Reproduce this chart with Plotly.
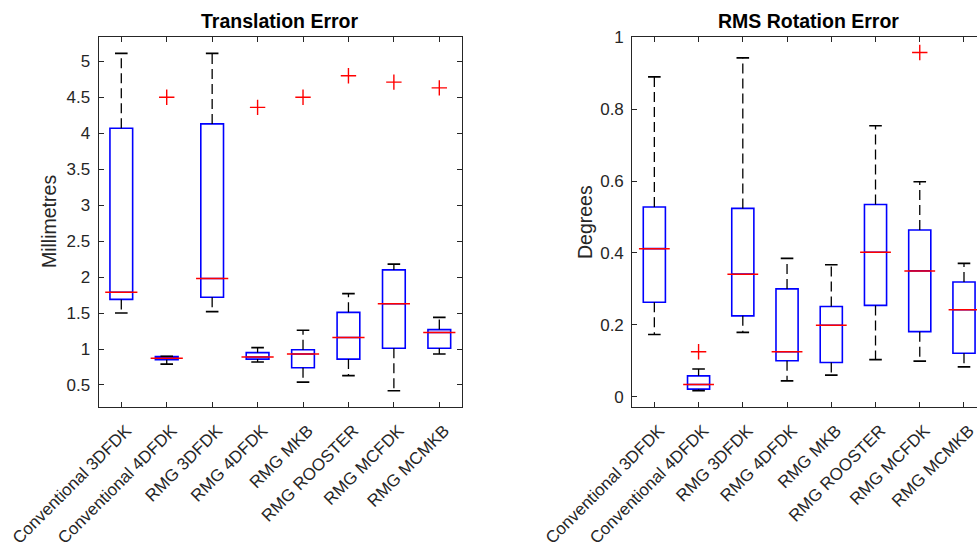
import plotly.graph_objects as go

categories = ["Conventional 3DFDK", "Conventional 4DFDK", "RMG 3DFDK", "RMG 4DFDK",
              "RMG MKB", "RMG ROOSTER", "RMG MCFDK", "RMG MCMKB"]
positions = [1, 2, 3, 4, 5, 6, 7, 8]

# Translation error (mm)
trans_lower = [1.50, 0.79, 1.52, 0.82, 0.54, 0.63, 0.42, 0.93]
trans_q1 = [1.69, 0.85, 1.72, 0.86, 0.74, 0.86, 1.01, 1.01]
trans_median = [1.79, 0.87, 1.98, 0.89, 0.93, 1.16, 1.63, 1.23]
trans_q3 = [4.07, 0.895, 4.13, 0.95, 0.99, 1.51, 2.10, 1.27]
trans_upper = [5.11, 0.90, 5.11, 1.02, 1.26, 1.77, 2.18, 1.44]
trans_outliers = [None, 4.50, None, 4.36, 4.50, 4.80, 4.71, 4.63]

# RMS rotation error (degrees)
rot_lower = [0.173, 0.017, 0.179, 0.044, 0.060, 0.103, 0.099, 0.083]
rot_q1 = [0.263, 0.021, 0.225, 0.100, 0.095, 0.254, 0.181, 0.121]
rot_median = [0.412, 0.034, 0.341, 0.125, 0.199, 0.402, 0.350, 0.242]
rot_q3 = [0.528, 0.058, 0.524, 0.300, 0.251, 0.535, 0.464, 0.319]
rot_upper = [0.890, 0.077, 0.943, 0.385, 0.367, 0.754, 0.598, 0.371]
rot_outliers = [None, 0.125, None, None, None, None, 0.958, None]

AXIS_COLOR = "#262626"
FONT = "Liberation Sans, Arial, sans-serif"

fig = go.Figure()


def add_boxplot(xa, ya, lower, q1, med, q3, upper, outliers, median_px):
    # blue boxes
    fig.add_trace(go.Box(
        x=positions, q1=q1, median=med, q3=q3, lowerfence=q1, upperfence=q3,
        width=0.5, whiskerwidth=0, boxpoints=False,
        fillcolor="rgba(0,0,0,0)", line=dict(color="#0000ff", width=1.6),
        xaxis=xa, yaxis=ya, hoverinfo="skip"))
    # dashed whiskers
    wx, wy = [], []
    for p, lo, a, b, up in zip(positions, lower, q1, q3, upper):
        wx += [p, p, None, p, p, None]
        wy += [b, up, None, a, lo, None]
    fig.add_trace(go.Scatter(
        x=wx, y=wy, mode="lines",
        line=dict(color="black", width=1.3, dash="10px,5px"),
        xaxis=xa, yaxis=ya, hoverinfo="skip"))
    # caps
    fig.add_trace(go.Scatter(
        x=positions + positions, y=upper + lower, mode="markers",
        marker=dict(symbol="line-ew", size=9, line=dict(color="black", width=1.6)),
        xaxis=xa, yaxis=ya, hoverinfo="skip"))
    # red medians
    fig.add_trace(go.Scatter(
        x=positions, y=med, mode="markers",
        marker=dict(symbol="line-ew", size=median_px, line=dict(color="#ff0000", width=1.5)),
        xaxis=xa, yaxis=ya, hoverinfo="skip"))
    # outliers
    ox = [p for p, o in zip(positions, outliers) if o is not None]
    oy = [o for o in outliers if o is not None]
    fig.add_trace(go.Scatter(
        x=ox, y=oy, mode="markers",
        marker=dict(symbol="cross-thin", size=11, line=dict(color="#ff0000", width=1.4)),
        xaxis=xa, yaxis=ya, hoverinfo="skip"))


add_boxplot("x", "y", trans_lower, trans_q1, trans_median, trans_q3, trans_upper, trans_outliers, 23)
add_boxplot("x2", "y2", rot_lower, rot_q1, rot_median, rot_q3, rot_upper, rot_outliers, 22)

tickfont = dict(family=FONT, size=17, color=AXIS_COLOR)
common_x = dict(tickvals=positions, ticktext=categories, tickangle=-45, ticks="inside",
                ticklen=5, tickcolor=AXIS_COLOR, showline=True, linecolor=AXIS_COLOR,
                linewidth=1, showgrid=False, zeroline=False, tickfont=tickfont,
                automargin=False, ticklabelstandoff=6, ticklabelshift=5,
                ticklabeloverflow="allow")
common_y = dict(ticks="inside", ticklen=5, tickcolor=AXIS_COLOR, showline=True,
                linecolor=AXIS_COLOR, linewidth=1, showgrid=False, zeroline=False,
                tickfont=tickfont, automargin=False, ticklabelstandoff=4)

fig.update_layout(
    width=977, height=548,
    margin=dict(l=0, r=0, t=0, b=0),
    paper_bgcolor="white", plot_bgcolor="white",
    showlegend=False,
    font=dict(family=FONT, color=AXIS_COLOR),
    xaxis=dict(domain=[0.1009, 0.4729], range=[0.5, 8.5], anchor="y", mirror="ticks", **common_x),
    yaxis=dict(domain=[0.2573, 0.9325], range=[0.194, 5.338], tick0=0, dtick=0.5,
               anchor="x", mirror="ticks", **common_y),
    xaxis2=dict(domain=[0.6471, 1.0], range=[0.5, 8.294], anchor="y2", mirror="ticks", **common_x),
    yaxis2=dict(domain=[0.2573, 0.9325], range=[-0.0287, 1.001], tick0=0, dtick=0.2,
                anchor="x2", mirror=False, **common_y),
    annotations=[
        dict(text="<b>Translation Error</b>", x=0.2869, y=0.9617, xref="paper", yref="paper",
             showarrow=False, xanchor="center", yanchor="middle",
             font=dict(family=FONT, size=19.5, color="black")),
        dict(text="<b>RMS Rotation Error</b>", x=0.828, y=0.9617, xref="paper", yref="paper",
             showarrow=False, xanchor="center", yanchor="middle",
             font=dict(family=FONT, size=19.5, color="black")),
        dict(text="Millimetres", x=0.0502, y=0.5949, xref="paper", yref="paper",
             showarrow=False, xanchor="center", yanchor="middle", textangle=-90,
             font=dict(family=FONT, size=19.5, color=AXIS_COLOR)),
        dict(text="Degrees", x=0.5988, y=0.5949, xref="paper", yref="paper",
             showarrow=False, xanchor="center", yanchor="middle", textangle=-90,
             font=dict(family=FONT, size=19.5, color=AXIS_COLOR)),
    ],
)

fig.write_html("out.html", config={"displayModeBar": False},
               post_script="document.body.style.margin='0px';document.body.style.overflow='hidden';")
